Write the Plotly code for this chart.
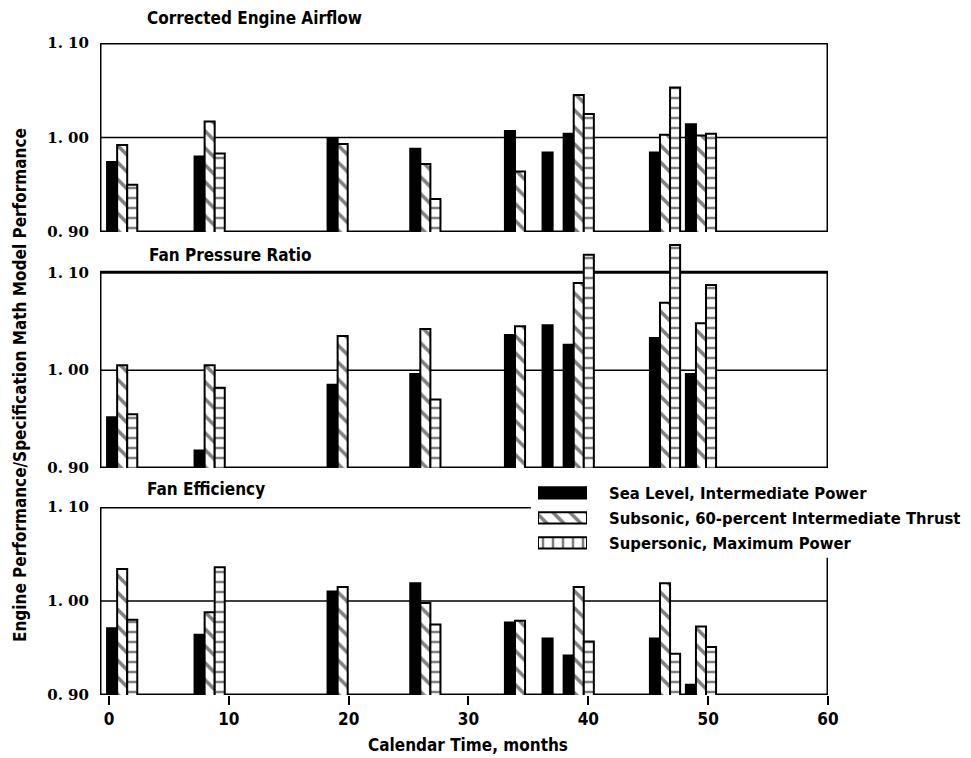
import plotly.graph_objects as go

# ---------------- data ----------------
months = [1.1, 8.4, 19.5, 26.4, 34.3, 37.44, 39.2, 46.4, 49.4]

panel_titles = ["Corrected Engine Airflow", "Fan Pressure Ratio", "Fan Efficiency"]
series_names = ["Sea Level, Intermediate Power",
                "Subsonic, 60-percent Intermediate Thrust",
                "Supersonic, Maximum Power"]

airflow_sea = [0.974, 0.980, 0.999, 0.988, 1.007, 0.984, 1.004, 0.984, 1.014]
airflow_sub = [0.992, 1.017, 0.993, 0.972, 0.964, None, 1.045, 1.003, 1.002]
airflow_sup = [0.950, 0.983, None, 0.935, None, None, 1.025, 1.053, 1.004]

fpr_sea = [0.952, 0.918, 0.985, 0.996, 1.036, 1.046, 1.026, 1.033, 0.996]
fpr_sub = [1.005, 1.005, 1.035, 1.042, 1.045, None, 1.089, 1.069, 1.048]
fpr_sup = [0.955, 0.982, None, 0.970, None, None, 1.118, 1.128, 1.087]

eff_sea = [0.971, 0.964, 1.010, 1.019, 0.977, 0.960, 0.942, 0.960, 0.911]
eff_sub = [1.034, 0.988, 1.015, 0.998, 0.979, None, 1.015, 1.019, 0.973]
eff_sup = [0.980, 1.036, None, 0.975, None, None, 0.957, 0.944, 0.951]

x_tick_vals = [0, 10, 20, 30, 40, 50, 60]
y_tick_vals = [0.90, 1.00, 1.10]
y_tick_text = ["0. 90", "1. 00", "1. 10"]

# ---------------- styling ----------------
# the page body has an 8px margin, so the figure is slightly smaller
PAGE_OFF = 8
W, H = 971 - PAGE_OFF, 758 - PAGE_OFF
ML, MR, MT, MB = 100 - PAGE_OFF, 143, 43 - PAGE_OFF, 63
PW = W - ML - MR
PH = H - MT - MB
PLOT_BOTTOM_PAGE = PAGE_OFF + H - MB

def px_x(px):
    return (px - PAGE_OFF - ML) / PW

def px_y(py):
    return (PLOT_BOTTOM_PAGE - py) / PH

FONT = "DejaVu Sans Condensed"
BAR_W = 0.84
OFFSETS = [-1.26, -0.42, 0.42]
X_RANGE = [-0.75, 60]

styles = [
    dict(color="black", line=dict(color="black", width=2)),
    dict(color="white", line=dict(color="black", width=2),
         pattern=dict(shape="\\", fgcolor="black", bgcolor="white", size=12, solidity=0.3)),
    dict(color="white", line=dict(color="black", width=2),
         pattern=dict(shape="-", fgcolor="black", bgcolor="white", size=10, solidity=0.25)),
]

panels = [
    (airflow_sea, airflow_sub, airflow_sup),
    (fpr_sea, fpr_sub, fpr_sup),
    (eff_sea, eff_sub, eff_sup),
]

fig = go.Figure()

axis_ids = ["", "2", "3"]
for p, data in enumerate(panels):
    for s, vals in enumerate(data):
        fig.add_trace(go.Bar(
            x=months, y=vals, width=BAR_W, offset=OFFSETS[s],
            marker=styles[s], name=series_names[s], showlegend=False,
            xaxis="x" + axis_ids[p], yaxis="y" + axis_ids[p],
        ))

# legend symbol bars (in a small dedicated axis)
leg_styles = [
    styles[0],
    styles[1],
    dict(color="white", line=dict(color="black", width=2),
         pattern=dict(shape="|", fgcolor="black", bgcolor="white", size=10, solidity=0.25)),
]
for s in range(3):
    fig.add_trace(go.Bar(
        x=[1], y=[s], orientation="h", width=0.45, marker=leg_styles[s],
        showlegend=False, xaxis="x4", yaxis="y4", hoverinfo="skip",
    ))

domains = [
    [px_y(232), 1.0],
    [px_y(468), px_y(243)],
    [0.0, px_y(507)],
]
y_ranges = [[0.9, 1.1], [0.9, 1.13], [0.9, 1.1]]

layout = dict(
    width=W, height=H,
    margin=dict(l=ML, r=MR, t=MT, b=MB, autoexpand=False),
    paper_bgcolor="white", plot_bgcolor="white",
    barmode="overlay", showlegend=False,
    font=dict(family=FONT, color="black"),
)

for p in range(3):
    xa = "xaxis" + axis_ids[p]
    ya = "yaxis" + axis_ids[p]
    is_bottom = (p == 2)
    layout[xa] = dict(
        domain=[0, 1], range=X_RANGE, anchor="y" + axis_ids[p], automargin=False,
        showgrid=False, zeroline=False, showline=False,
        tickvals=x_tick_vals if is_bottom else [],
        showticklabels=is_bottom,
        ticks="outside" if is_bottom else "", ticklen=9, tickwidth=2, tickcolor="black",
        tickfont=dict(family=FONT, size=17, weight="bold"),
    )
    layout[ya] = dict(
        domain=domains[p], range=y_ranges[p], anchor="x" + axis_ids[p], automargin=False,
        showgrid=False, zeroline=False, showline=False,
        tickvals=y_tick_vals, ticktext=y_tick_text, ticks="",
        ticklabelstandoff=10,
        tickfont=dict(family="DejaVu Serif", size=15, weight="bold"),
    )

layout["xaxis4"] = dict(domain=[px_x(538), px_x(587)], range=[0, 1], anchor="y4",
                        visible=False, fixedrange=True, automargin=False)
layout["yaxis4"] = dict(domain=[px_y(555.5), px_y(480.5)], range=[2.5, -0.5], anchor="x4",
                        visible=False, fixedrange=True, automargin=False)

fig.update_layout(**layout)

# ---------------- frames and reference lines ----------------
shapes = []
LW = 3
for p in range(2):
    xr, yr = "x" + axis_ids[p], "y" + axis_ids[p]
    shapes.append(dict(type="rect", xref=xr, yref=yr, x0=X_RANGE[0], x1=X_RANGE[1],
                       y0=0.9, y1=1.1, line=dict(color="black", width=LW), layer="below"))
for p in range(3):
    xr, yr = "x" + axis_ids[p], "y" + axis_ids[p]
    shapes.append(dict(type="line", xref=xr, yref=yr, x0=X_RANGE[0], x1=X_RANGE[1],
                       y0=1.0, y1=1.0, line=dict(color="black", width=1.5), layer="below"))
# bottom panel frame, interrupted by the legend at the top-right
xr, yr = "x3", "y3"
for seg in [
    (X_RANGE[0], 0.9, X_RANGE[0], 1.1),
    (X_RANGE[0], 1.1, 35.2, 1.1),
    (X_RANGE[0], 0.9, X_RANGE[1], 0.9),
    (X_RANGE[1], 0.9, X_RANGE[1], 1.046),
]:
    shapes.append(dict(type="line", xref=xr, yref=yr, x0=seg[0], y0=seg[1], x1=seg[2], y1=seg[3],
                       line=dict(color="black", width=LW), layer="below"))
fig.update_layout(shapes=shapes)

# ---------------- texts ----------------
ann = []
title_pos = [(145, 18), (147, 255), (145, 489)]
for t, (x0, y0) in zip(panel_titles, title_pos):
    ann.append(dict(text=t, xref="paper", yref="paper", x=px_x(x0), y=px_y(y0),
                    xanchor="left", yanchor="middle", showarrow=False,
                    font=dict(family=FONT, size=17, weight="bold")))
for name, y0 in zip(series_names, [493, 518, 543]):
    ann.append(dict(text=name, xref="paper", yref="paper", x=px_x(607), y=px_y(y0),
                    xanchor="left", yanchor="middle", showarrow=False,
                    font=dict(family=FONT, size=16.5, weight="bold")))
ann.append(dict(text="Calendar Time, months", xref="paper", yref="paper",
                x=px_x(468), y=px_y(745), xanchor="center", yanchor="middle",
                showarrow=False, font=dict(family=FONT, size=17, weight="bold")))
ann.append(dict(text="Engine Performance/Specification Math Model Performance",
                xref="paper", yref="paper", x=px_x(20), y=px_y(385),
                xanchor="center", yanchor="middle", textangle=-90, showarrow=False,
                font=dict(family=FONT, size=17, weight="bold")))
fig.update_layout(annotations=ann)

fig.write_html("out.html")
